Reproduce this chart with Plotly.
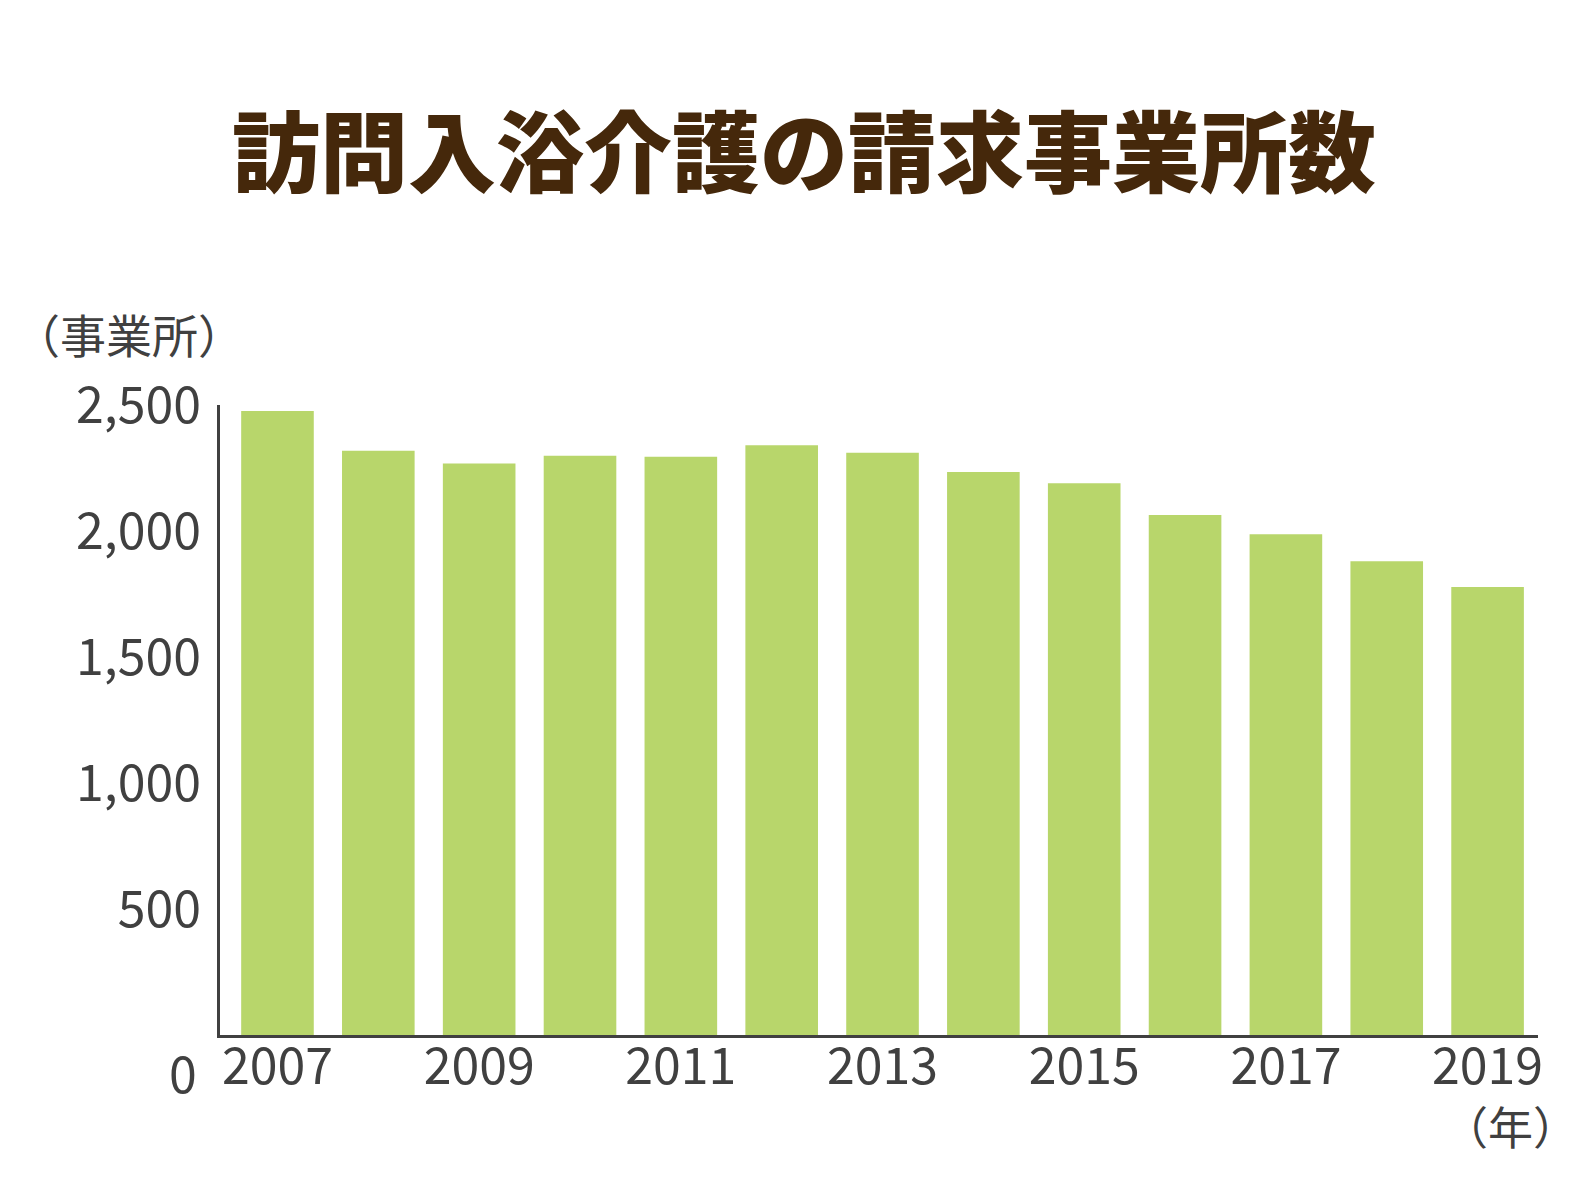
import plotly.graph_objects as go

# 訪問入浴介護の請求事業所数（年別）
years = [2007, 2008, 2009, 2010, 2011, 2012, 2013, 2014, 2015, 2016, 2017, 2018, 2019]
offices = [2476, 2318, 2268, 2299, 2295, 2340, 2311, 2234, 2189, 2063, 1987, 1880, 1778]

x_ticks = [2007, 2009, 2011, 2013, 2015, 2017, 2019]
y_ticks = [500, 1000, 1500, 2000, 2500]
y_labels = ['500', '1,000', '1,500', '2,000', '2,500']

FONT = 'Noto Sans CJK JP'
GRIS = '#404040'
VERDE = '#b8d66b'
MARRON = '#45280b'

fig = go.Figure()

fig.add_trace(go.Bar(
    x=years, y=offices,
    width=0.72,
    marker=dict(color=VERDE, line=dict(width=0)),
    hovertemplate='%{x}年<br>%{y:,}事業所<extra></extra>',
    showlegend=False
))

fig.update_layout(
    width=1592, height=1194,
    paper_bgcolor='white', plot_bgcolor='white',
    margin=dict(l=212, r=62, t=397, b=167),
    title=dict(
        text='訪問入浴介護の請求事業所数',
        x=0.5, xanchor='center', y=1 - 146 / 1194, yanchor='middle',
        font=dict(family=FONT, size=88, color=MARRON, weight=900)
    ),
    font=dict(family=FONT, color=GRIS),
    bargap=0.28,
)

fig.update_xaxes(
    range=[2006.43, 2019.5],
    tickvals=x_ticks, ticktext=[str(v) for v in x_ticks],
    tickfont=dict(family=FONT, size=50, color=GRIS),
    showline=True, linecolor=GRIS, linewidth=3,
    showgrid=False, zeroline=False, ticks='',
    ticklabelstandoff=-14,
)

fig.update_yaxes(
    range=[0, 2500],
    tickvals=y_ticks, ticktext=y_labels,
    tickfont=dict(family=FONT, size=50, color=GRIS),
    showline=True, linecolor=GRIS, linewidth=3,
    showgrid=False, zeroline=False, ticks='',
    ticklabelstandoff=6,
)

# etiquetas sueltas: 0, unidad del eje y, unidad del eje x
fig.add_annotation(text='0', x=-0.028, y=-0.057, xref='paper', yref='paper',
                   xanchor='center', yanchor='middle', showarrow=False,
                   font=dict(family=FONT, size=50, color=GRIS))
fig.add_annotation(text='（事業所）', x=-0.069, y=1.114, xref='paper', yref='paper',
                   xanchor='center', yanchor='middle', showarrow=False,
                   font=dict(family=FONT, size=46, color=GRIS))
fig.add_annotation(text='（年）', x=1.032, y=-0.143, xref='paper', yref='paper',
                   xanchor='right', yanchor='middle', showarrow=False,
                   font=dict(family=FONT, size=45, color=GRIS))

fig.write_html('out.html')
